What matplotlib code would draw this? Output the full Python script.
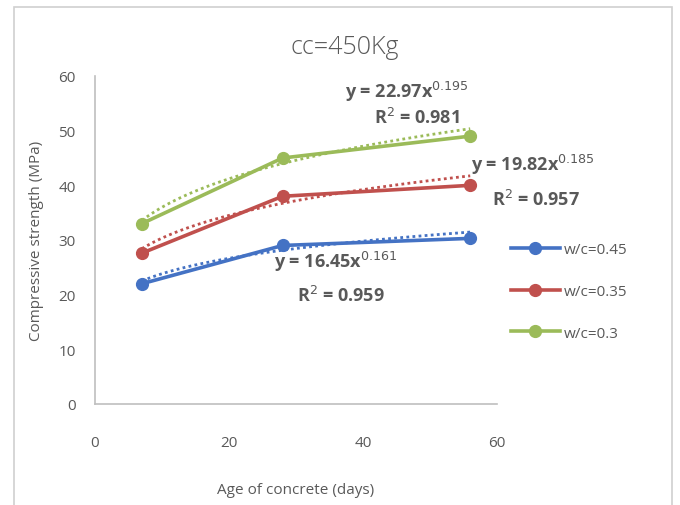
import numpy as np
import matplotlib.pyplot as plt
from matplotlib.patches import Rectangle

# Dados do gráfico
idade_dias = [7, 28, 56]
series_nomes = ['w/c=0.45', 'w/c=0.35', 'w/c=0.3']
resist_045 = [22.0, 29.0, 30.3]
resist_035 = [27.6, 38.0, 40.0]
resist_030 = [33.0, 45.0, 49.0]

# Coeficientes das linhas de tendência (potência) mostrados no gráfico
coef_a = [16.45, 19.82, 22.97]
coef_b = ['0.161', '0.185', '0.195']
r2 = [0.959, 0.957, 0.981]

cores = ['#4472C4', '#C0504D', '#9BBB59']
cor_texto = '#595959'

plt.rcParams['font.family'] = ['Open Sans', 'DejaVu Sans']

fig = plt.figure(figsize=(6.8, 5.06), dpi=100)
fig.patches.append(Rectangle((14 / 680, -0.01), 658 / 680, 1 - 8 / 506 + 0.01,
                             transform=fig.transFigure, fill=False,
                             edgecolor='#D0D0D0', linewidth=1.2))

ax = fig.add_axes([95 / 680, 1 - 405 / 506, 402 / 680, 328 / 506])

dados = [resist_045, resist_035, resist_030]
x_tend = np.linspace(idade_dias[0], idade_dias[-1], 60)
for nome, y, cor, a, b in zip(series_nomes, dados, cores, coef_a, coef_b):
    ax.plot(idade_dias, y, color=cor, linewidth=2.6, marker='o',
            markersize=8.5, label=nome, zorder=3)
    ax.plot(x_tend, a * x_tend ** float(b), color=cor, linewidth=2.0,
            linestyle=(0, (1, 1.2)), zorder=2)

ax.set_xlim(0, 60)
ax.set_ylim(0, 60)
ax.set_xticks([0, 20, 40, 60])
ax.set_yticks(range(0, 61, 10))
ax.tick_params(length=0, labelsize=11, labelcolor=cor_texto, pad=14)
ax.tick_params(axis='x', pad=22)
for lado in ['top', 'right']:
    ax.spines[lado].set_visible(False)
for lado in ['left', 'bottom']:
    ax.spines[lado].set_color('#BFBFBF')
    ax.spines[lado].set_linewidth(1.2)

ax.set_xlabel('Age of concrete (days)', fontsize=11, color=cor_texto, labelpad=23)
ax.set_ylabel('Compressive strength (MPa)', fontsize=11, color=cor_texto)
ax.yaxis.set_label_coords(-0.128, 0.5)

fig.text(345 / 680, 1 - 48 / 506, 'cc=450Kg', fontsize=18, color=cor_texto,
         ha='center', va='center', fontweight='light')

# Equações das linhas de tendência
pos_eq = [(336, 262, 341, 296), (533, 165, 536, 200), (407, 92, 417, 118)]
for (xe, ye, xr, yr), a, b, r in zip(pos_eq, coef_a, coef_b, r2):
    fig.text(xe / 680, 1 - ye / 506, 'y = %.2fx$^{%s}$' % (a, b),
             fontsize=13, color=cor_texto, ha='center', va='center', fontweight='bold')
    fig.text(xr / 680, 1 - yr / 506, 'R$^2$ = %.3f' % r,
             fontsize=13, color=cor_texto, ha='center', va='center', fontweight='bold')

ax.legend(loc='upper left', bbox_to_anchor=(1.0, 0.535), frameon=False,
          fontsize=11, labelcolor=cor_texto, handlelength=3.2,
          labelspacing=1.75, handletextpad=0.3)

fig.savefig('out.png', dpi=100)
